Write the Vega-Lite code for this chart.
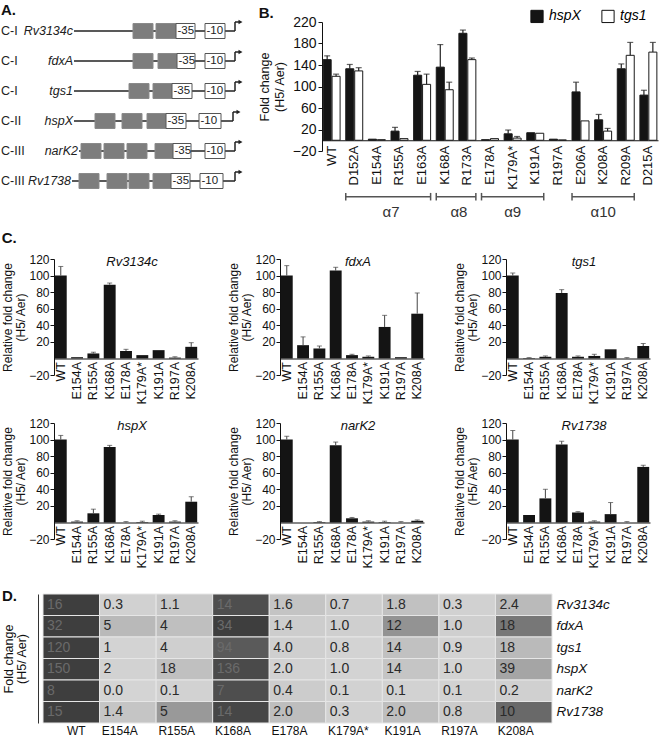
{
 "$schema": "https://vega.github.io/schema/vega-lite/v6.json",
 "padding": {"left": 1, "top": 2, "right": 2, "bottom": 0},
 "background": "white",
 "config": {
  "font": "Liberation Sans",
  "view": {"stroke": null},
  "axis": {"grid": false, "labelOverlap": false, "domainColor": "#111", "tickColor": "#111", "labelColor": "#111", "titleColor": "#111", "titleFontWeight": "normal", "labelFontWeight": "normal"},
  "title": {"color": "#111"}
 },
 "datasets": {
  "aRows": [
   {"gene": "Rv3134c", "cls": "C-I", "row": 1, "start": 74, "arrow": 235},
   {"gene": "fdxA", "cls": "C-I", "row": 2, "start": 74, "arrow": 235},
   {"gene": "tgs1", "cls": "C-I", "row": 3, "start": 74, "arrow": 235},
   {"gene": "hspX", "cls": "C-II", "row": 4, "start": 74, "arrow": 233},
   {"gene": "narK2", "cls": "C-III", "row": 5, "start": 79, "arrow": 235},
   {"gene": "Rv1738", "cls": "C-III", "row": 6, "start": 72, "arrow": 235}
  ],
  "aBoxes": [
   {"row": 1, "kind": "site", "s": 133, "e": 153}, {"row": 1, "kind": "site", "s": 156, "e": 176}, {"row": 1, "kind": "-35", "s": 176, "e": 195}, {"row": 1, "kind": "-10", "s": 205, "e": 225},
   {"row": 2, "kind": "site", "s": 133, "e": 153}, {"row": 2, "kind": "site", "s": 158, "e": 177}, {"row": 2, "kind": "-35", "s": 177, "e": 195}, {"row": 2, "kind": "-10", "s": 205, "e": 225},
   {"row": 3, "kind": "site", "s": 129, "e": 149}, {"row": 3, "kind": "site", "s": 153, "e": 172}, {"row": 3, "kind": "-35", "s": 172, "e": 192}, {"row": 3, "kind": "-10", "s": 205, "e": 225},
   {"row": 4, "kind": "site", "s": 95, "e": 115}, {"row": 4, "kind": "site", "s": 122, "e": 142}, {"row": 4, "kind": "site", "s": 147, "e": 166}, {"row": 4, "kind": "-35", "s": 166, "e": 186}, {"row": 4, "kind": "-10", "s": 199, "e": 221},
   {"row": 5, "kind": "site", "s": 81, "e": 101}, {"row": 5, "kind": "site", "s": 104, "e": 124}, {"row": 5, "kind": "site", "s": 127, "e": 147}, {"row": 5, "kind": "site", "s": 155, "e": 173}, {"row": 5, "kind": "-35", "s": 173, "e": 191}, {"row": 5, "kind": "-10", "s": 205, "e": 225},
   {"row": 6, "kind": "site", "s": 79, "e": 99}, {"row": 6, "kind": "site", "s": 107, "e": 127}, {"row": 6, "kind": "site", "s": 129, "e": 149}, {"row": 6, "kind": "site", "s": 153, "e": 171}, {"row": 6, "kind": "-35", "s": 171, "e": 190}, {"row": 6, "kind": "-10", "s": 200, "e": 223}
  ],
  "bData": [
   {"mut": "WT", "series": "hspX", "val": 150, "hi": 157}, {"mut": "WT", "series": "tgs1", "val": 119, "hi": 123},
   {"mut": "D152A", "series": "hspX", "val": 133, "hi": 141}, {"mut": "D152A", "series": "tgs1", "val": 129, "hi": 135},
   {"mut": "E154A", "series": "hspX", "val": 2, "hi": 2}, {"mut": "E154A", "series": "tgs1", "val": 1, "hi": 1},
   {"mut": "R155A", "series": "hspX", "val": 17, "hi": 24}, {"mut": "R155A", "series": "tgs1", "val": 3, "hi": 3},
   {"mut": "E163A", "series": "hspX", "val": 121, "hi": 128}, {"mut": "E163A", "series": "tgs1", "val": 104, "hi": 123},
   {"mut": "K168A", "series": "hspX", "val": 136, "hi": 178}, {"mut": "K168A", "series": "tgs1", "val": 94, "hi": 108},
   {"mut": "R173A", "series": "hspX", "val": 199, "hi": 205}, {"mut": "R173A", "series": "tgs1", "val": 150, "hi": 153},
   {"mut": "E178A", "series": "hspX", "val": 1, "hi": 1}, {"mut": "E178A", "series": "tgs1", "val": 3, "hi": 3},
   {"mut": "K179A*", "series": "hspX", "val": 12, "hi": 19}, {"mut": "K179A*", "series": "tgs1", "val": 4, "hi": 7},
   {"mut": "K191A", "series": "hspX", "val": 14, "hi": 14}, {"mut": "K191A", "series": "tgs1", "val": 13, "hi": 13},
   {"mut": "R197A", "series": "hspX", "val": 2, "hi": 2}, {"mut": "R197A", "series": "tgs1", "val": 0.5, "hi": 0.5},
   {"mut": "E206A", "series": "hspX", "val": 90, "hi": 108}, {"mut": "E206A", "series": "tgs1", "val": 36, "hi": 36},
   {"mut": "K208A", "series": "hspX", "val": 38, "hi": 48}, {"mut": "K208A", "series": "tgs1", "val": 17, "hi": 22},
   {"mut": "R209A", "series": "hspX", "val": 133, "hi": 142}, {"mut": "R209A", "series": "tgs1", "val": 158, "hi": 182},
   {"mut": "D215A", "series": "hspX", "val": 84, "hi": 93}, {"mut": "D215A", "series": "tgs1", "val": 164, "hi": 182}
  ],
  "bBrackets": [
   {"label": "α7", "from": "D152A", "to": "E163A", "mid": "R155A", "half": 0},
   {"label": "α8", "from": "K168A", "to": "R173A", "mid": "R173A", "half": 0},
   {"label": "α9", "from": "E178A", "to": "K191A", "mid": "K179A*", "half": 1},
   {"label": "α10", "from": "E206A", "to": "R209A", "mid": "K208A", "half": 1}
  ],
  "cData": [
   {"gene": "Rv3134c", "mut": "WT", "val": 100, "hi": 111}, {"gene": "Rv3134c", "mut": "E154A", "val": 1.5, "hi": 1.5}, {"gene": "Rv3134c", "mut": "R155A", "val": 6, "hi": 7.5}, {"gene": "Rv3134c", "mut": "K168A", "val": 89, "hi": 91}, {"gene": "Rv3134c", "mut": "E178A", "val": 9, "hi": 11}, {"gene": "Rv3134c", "mut": "K179A*", "val": 4, "hi": 4}, {"gene": "Rv3134c", "mut": "K191A", "val": 10, "hi": 10}, {"gene": "Rv3134c", "mut": "R197A", "val": 1, "hi": 2}, {"gene": "Rv3134c", "mut": "K208A", "val": 14, "hi": 19},
   {"gene": "fdxA", "mut": "WT", "val": 100, "hi": 112}, {"gene": "fdxA", "mut": "E154A", "val": 16, "hi": 26}, {"gene": "fdxA", "mut": "R155A", "val": 12, "hi": 15}, {"gene": "fdxA", "mut": "K168A", "val": 106, "hi": 110}, {"gene": "fdxA", "mut": "E178A", "val": 4, "hi": 5}, {"gene": "fdxA", "mut": "K179A*", "val": 2, "hi": 3}, {"gene": "fdxA", "mut": "K191A", "val": 38, "hi": 52}, {"gene": "fdxA", "mut": "R197A", "val": 1.5, "hi": 1.5}, {"gene": "fdxA", "mut": "K208A", "val": 54, "hi": 79},
   {"gene": "tgs1", "mut": "WT", "val": 100, "hi": 103}, {"gene": "tgs1", "mut": "E154A", "val": 0.5, "hi": 1}, {"gene": "tgs1", "mut": "R155A", "val": 2, "hi": 3}, {"gene": "tgs1", "mut": "K168A", "val": 79, "hi": 83}, {"gene": "tgs1", "mut": "E178A", "val": 2, "hi": 3}, {"gene": "tgs1", "mut": "K179A*", "val": 3, "hi": 5}, {"gene": "tgs1", "mut": "K191A", "val": 11, "hi": 11}, {"gene": "tgs1", "mut": "R197A", "val": 0, "hi": 1}, {"gene": "tgs1", "mut": "K208A", "val": 15, "hi": 18},
   {"gene": "hspX", "mut": "WT", "val": 100, "hi": 105}, {"gene": "hspX", "mut": "E154A", "val": 1, "hi": 2}, {"gene": "hspX", "mut": "R155A", "val": 11, "hi": 16}, {"gene": "hspX", "mut": "K168A", "val": 91, "hi": 93}, {"gene": "hspX", "mut": "E178A", "val": 0, "hi": 1}, {"gene": "hspX", "mut": "K179A*", "val": 0.5, "hi": 1.5}, {"gene": "hspX", "mut": "K191A", "val": 9, "hi": 10}, {"gene": "hspX", "mut": "R197A", "val": 1, "hi": 2}, {"gene": "hspX", "mut": "K208A", "val": 25, "hi": 31},
   {"gene": "narK2", "mut": "WT", "val": 100, "hi": 104}, {"gene": "narK2", "mut": "E154A", "val": 0, "hi": 0}, {"gene": "narK2", "mut": "R155A", "val": 0.5, "hi": 1}, {"gene": "narK2", "mut": "K168A", "val": 93, "hi": 97}, {"gene": "narK2", "mut": "E178A", "val": 5, "hi": 6}, {"gene": "narK2", "mut": "K179A*", "val": 1, "hi": 2}, {"gene": "narK2", "mut": "K191A", "val": 0.5, "hi": 1.5}, {"gene": "narK2", "mut": "R197A", "val": 0, "hi": 1}, {"gene": "narK2", "mut": "K208A", "val": 2, "hi": 3},
   {"gene": "Rv1738", "mut": "WT", "val": 100, "hi": 111}, {"gene": "Rv1738", "mut": "E154A", "val": 9, "hi": 9}, {"gene": "Rv1738", "mut": "R155A", "val": 29, "hi": 40}, {"gene": "Rv1738", "mut": "K168A", "val": 94, "hi": 98}, {"gene": "Rv1738", "mut": "E178A", "val": 12, "hi": 13}, {"gene": "Rv1738", "mut": "K179A*", "val": 1, "hi": 2}, {"gene": "Rv1738", "mut": "K191A", "val": 10, "hi": 24}, {"gene": "Rv1738", "mut": "R197A", "val": 0, "hi": 1}, {"gene": "Rv1738", "mut": "K208A", "val": 67, "hi": 69}
  ],
  "dData": [
   {"gene": "Rv3134c", "mut": "WT", "label": "16", "rel": 100}, {"gene": "Rv3134c", "mut": "E154A", "label": "0.3", "rel": 1.9}, {"gene": "Rv3134c", "mut": "R155A", "label": "1.1", "rel": 6.9}, {"gene": "Rv3134c", "mut": "K168A", "label": "14", "rel": 87.5}, {"gene": "Rv3134c", "mut": "E178A", "label": "1.6", "rel": 10}, {"gene": "Rv3134c", "mut": "K179A*", "label": "0.7", "rel": 4.4}, {"gene": "Rv3134c", "mut": "K191A", "label": "1.8", "rel": 11.3}, {"gene": "Rv3134c", "mut": "R197A", "label": "0.3", "rel": 1.9}, {"gene": "Rv3134c", "mut": "K208A", "label": "2.4", "rel": 15},
   {"gene": "fdxA", "mut": "WT", "label": "32", "rel": 100}, {"gene": "fdxA", "mut": "E154A", "label": "5", "rel": 15.6}, {"gene": "fdxA", "mut": "R155A", "label": "4", "rel": 12.5}, {"gene": "fdxA", "mut": "K168A", "label": "34", "rel": 106}, {"gene": "fdxA", "mut": "E178A", "label": "1.4", "rel": 4.4}, {"gene": "fdxA", "mut": "K179A*", "label": "1.0", "rel": 3.1}, {"gene": "fdxA", "mut": "K191A", "label": "12", "rel": 37.5}, {"gene": "fdxA", "mut": "R197A", "label": "1.0", "rel": 3.1}, {"gene": "fdxA", "mut": "K208A", "label": "18", "rel": 56.3},
   {"gene": "tgs1", "mut": "WT", "label": "120", "rel": 100}, {"gene": "tgs1", "mut": "E154A", "label": "1", "rel": 0.8}, {"gene": "tgs1", "mut": "R155A", "label": "4", "rel": 3.3}, {"gene": "tgs1", "mut": "K168A", "label": "94", "rel": 78.3}, {"gene": "tgs1", "mut": "E178A", "label": "4.0", "rel": 3.3}, {"gene": "tgs1", "mut": "K179A*", "label": "0.8", "rel": 0.7}, {"gene": "tgs1", "mut": "K191A", "label": "14", "rel": 11.7}, {"gene": "tgs1", "mut": "R197A", "label": "0.9", "rel": 0.8}, {"gene": "tgs1", "mut": "K208A", "label": "18", "rel": 15},
   {"gene": "hspX", "mut": "WT", "label": "150", "rel": 100}, {"gene": "hspX", "mut": "E154A", "label": "2", "rel": 1.3}, {"gene": "hspX", "mut": "R155A", "label": "18", "rel": 12}, {"gene": "hspX", "mut": "K168A", "label": "136", "rel": 90.7}, {"gene": "hspX", "mut": "E178A", "label": "2.0", "rel": 1.3}, {"gene": "hspX", "mut": "K179A*", "label": "1.0", "rel": 0.7}, {"gene": "hspX", "mut": "K191A", "label": "14", "rel": 9.3}, {"gene": "hspX", "mut": "R197A", "label": "1.0", "rel": 0.7}, {"gene": "hspX", "mut": "K208A", "label": "39", "rel": 26},
   {"gene": "narK2", "mut": "WT", "label": "8", "rel": 100}, {"gene": "narK2", "mut": "E154A", "label": "0.0", "rel": 0}, {"gene": "narK2", "mut": "R155A", "label": "0.1", "rel": 1.3}, {"gene": "narK2", "mut": "K168A", "label": "7", "rel": 87.5}, {"gene": "narK2", "mut": "E178A", "label": "0.4", "rel": 5}, {"gene": "narK2", "mut": "K179A*", "label": "0.1", "rel": 1.3}, {"gene": "narK2", "mut": "K191A", "label": "0.1", "rel": 1.3}, {"gene": "narK2", "mut": "R197A", "label": "0.1", "rel": 1.3}, {"gene": "narK2", "mut": "K208A", "label": "0.2", "rel": 2.5},
   {"gene": "Rv1738", "mut": "WT", "label": "15", "rel": 100}, {"gene": "Rv1738", "mut": "E154A", "label": "1.4", "rel": 9.3}, {"gene": "Rv1738", "mut": "R155A", "label": "5", "rel": 33.3}, {"gene": "Rv1738", "mut": "K168A", "label": "14", "rel": 93.3}, {"gene": "Rv1738", "mut": "E178A", "label": "2.0", "rel": 13.3}, {"gene": "Rv1738", "mut": "K179A*", "label": "0.3", "rel": 2}, {"gene": "Rv1738", "mut": "K191A", "label": "2.0", "rel": 13.3}, {"gene": "Rv1738", "mut": "R197A", "label": "0.8", "rel": 5.3}, {"gene": "Rv1738", "mut": "K208A", "label": "10", "rel": 66.7}
  ]
 },
 "spacing": 11,
 "resolve": {"scale": {"fill": "independent", "stroke": "independent", "color": "independent"}},
 "vconcat": [
  {
   "resolve": {"scale": {"fill": "independent", "stroke": "independent", "color": "independent"}},
   "hconcat": [
    {
     "width": 202, "height": 180,
     "title": {"text": "A.", "anchor": "start", "fontSize": 15, "fontWeight": "bold", "offset": 2},
     "layer": [
      {"data": {"name": "aRows"}, "mark": {"type": "rule", "color": "#222", "strokeWidth": 1.5},
       "encoding": {
        "x": {"field": "start", "type": "quantitative", "scale": {"domain": [43, 245], "nice": false, "zero": false}, "axis": null},
        "x2": {"field": "arrow"},
        "y": {"field": "row", "type": "quantitative", "scale": {"domain": [0.7, 6.7], "reverse": true, "nice": false, "zero": false}, "axis": null}}},
      {"data": {"name": "aBoxes"}, "mark": {"type": "rect", "yOffset": -7.5, "y2Offset": 7.5, "strokeWidth": 1},
       "encoding": {
        "x": {"field": "s", "type": "quantitative", "axis": null}, "x2": {"field": "e"},
        "y": {"field": "row", "type": "quantitative", "axis": null}, "y2": {"field": "row"},
        "fill": {"field": "kind", "type": "nominal", "scale": {"domain": ["site", "-35", "-10"], "range": ["#7d7d7d", "#ffffff", "#ffffff"]}, "legend": null},
        "stroke": {"field": "kind", "type": "nominal", "scale": {"domain": ["site", "-35", "-10"], "range": ["#8a8a8a", "#555555", "#555555"]}, "legend": null}}},
      {"data": {"name": "aBoxes"}, "transform": [{"filter": "datum.kind !== 'site'"}],
       "mark": {"type": "text", "align": "left", "baseline": "middle", "dx": 1.5, "fontSize": 11.5, "color": "#222"},
       "encoding": {"x": {"field": "s", "type": "quantitative", "axis": null}, "y": {"field": "row", "type": "quantitative", "axis": null}, "text": {"field": "kind"}}},
      {"data": {"name": "aRows"}, "mark": {"type": "rule", "color": "#222", "strokeWidth": 1.5, "y2Offset": -9},
       "encoding": {"x": {"field": "arrow", "type": "quantitative", "axis": null}, "y": {"field": "row", "type": "quantitative", "axis": null}, "y2": {"field": "row"}}},
      {"data": {"name": "aRows"}, "mark": {"type": "rule", "color": "#222", "strokeWidth": 1.5, "yOffset": -9, "x2Offset": 4},
       "encoding": {"x": {"field": "arrow", "type": "quantitative", "axis": null}, "x2": {"field": "arrow"}, "y": {"field": "row", "type": "quantitative", "axis": null}}},
      {"data": {"name": "aRows"}, "mark": {"type": "point", "shape": "triangle-right", "filled": true, "color": "#222", "opacity": 1, "size": 22, "xOffset": 5.5, "yOffset": -9},
       "encoding": {"x": {"field": "arrow", "type": "quantitative", "axis": null}, "y": {"field": "row", "type": "quantitative", "axis": null}}},
      {"data": {"name": "aRows"}, "mark": {"type": "text", "align": "left", "baseline": "middle", "fontSize": 12.5, "color": "#222"},
       "encoding": {"x": {"datum": 1, "type": "quantitative", "axis": null}, "y": {"field": "row", "type": "quantitative", "axis": null}, "text": {"field": "cls"}}},
      {"data": {"name": "aRows"}, "mark": {"type": "text", "align": "right", "baseline": "middle", "fontSize": 12.5, "fontStyle": "italic", "dx": -1, "color": "#222"},
       "encoding": {"x": {"field": "start", "type": "quantitative", "axis": null}, "y": {"field": "row", "type": "quantitative", "axis": null}, "text": {"field": "gene"}}}
     ]
    },
    {
     "width": 336, "height": 129,
     "title": {"text": "B.", "anchor": "start", "fontSize": 15, "fontWeight": "bold", "offset": -12},
     "layer": [
      {"data": {"name": "bData"}, "mark": {"type": "bar", "stroke": "#1a1a1a", "strokeWidth": 1},
       "encoding": {
        "x": {"field": "mut", "type": "nominal", "scale": {"domain": ["WT", "D152A", "E154A", "R155A", "E163A", "K168A", "R173A", "E178A", "K179A*", "K191A", "R197A", "E206A", "K208A", "R209A", "D215A"], "paddingInner": 0.25, "paddingOuter": 0.05},
              "axis": {"labelAngle": -90, "ticks": false, "domain": true, "domainWidth": 1.2, "offset": -10.75, "labelPadding": 5, "labelFontSize": 13, "labelOverlap": false, "title": null}},
        "xOffset": {"field": "series", "type": "nominal", "scale": {"domain": ["hspX", "tgs1"], "paddingInner": 0.1}},
        "y": {"field": "val", "type": "quantitative", "scale": {"domain": [-20, 220], "nice": false, "zero": false},
              "axis": {"values": [-20, 20, 60, 100, 140, 180, 220], "tickCount": 12, "labelOverlap": false, "labelBound": false, "tickSize": 4, "labelFontSize": 14, "labelPadding": 2, "title": ["Fold change", "(H5/ Aer)"], "titleFontSize": 12.5, "titlePadding": 6}},
        "y2": {"datum": 0},
        "fill": {"field": "series", "type": "nominal", "scale": {"domain": ["hspX", "tgs1"], "range": ["#141414", "#ffffff"]},
                 "legend": {"orient": "none", "legendX": 208, "legendY": -13, "direction": "horizontal", "title": null, "symbolType": "square", "symbolSize": 150, "symbolStrokeColor": "#111", "symbolStrokeWidth": 1, "labelFontSize": 14, "labelFontStyle": "italic", "columnPadding": 18, "labelOffset": 5, "padding": 0}}}},
      {"data": {"name": "bData"}, "transform": [{"filter": "datum.hi > datum.val"}], "mark": {"type": "rule", "color": "#222", "strokeWidth": 1.2},
       "encoding": {"x": {"field": "mut", "type": "nominal"}, "xOffset": {"field": "series", "type": "nominal"}, "y": {"field": "val", "type": "quantitative"}, "y2": {"field": "hi"}}},
      {"data": {"name": "bData"}, "transform": [{"filter": "datum.hi > datum.val"}], "mark": {"type": "tick", "color": "#222", "thickness": 1.2, "size": 6},
       "encoding": {"x": {"field": "mut", "type": "nominal"}, "xOffset": {"field": "series", "type": "nominal"}, "y": {"field": "hi", "type": "quantitative"}}},
      {"data": {"name": "bBrackets"}, "mark": {"type": "rule", "color": "#555", "strokeWidth": 1.5},
       "encoding": {"x": {"field": "from", "type": "nominal", "bandPosition": 0}, "x2": {"field": "to", "bandPosition": 1}, "y": {"datum": -105}}},
      {"data": {"name": "bBrackets"}, "mark": {"type": "rule", "color": "#555", "strokeWidth": 1.5},
       "encoding": {"x": {"field": "from", "type": "nominal", "bandPosition": 0}, "y": {"datum": -98}, "y2": {"datum": -112}}},
      {"data": {"name": "bBrackets"}, "mark": {"type": "rule", "color": "#555", "strokeWidth": 1.5},
       "encoding": {"x": {"field": "to", "type": "nominal", "bandPosition": 1}, "y": {"datum": -98}, "y2": {"datum": -112}}},
      {"data": {"name": "bBrackets"}, "transform": [{"filter": "datum.half === 0"}], "mark": {"type": "text", "fontSize": 15, "baseline": "middle", "color": "#333"},
       "encoding": {"x": {"field": "mid", "type": "nominal", "bandPosition": 0}, "y": {"datum": -133}, "text": {"field": "label"}}},
      {"data": {"name": "bBrackets"}, "transform": [{"filter": "datum.half === 1"}], "mark": {"type": "text", "fontSize": 15, "baseline": "middle", "color": "#333"},
       "encoding": {"x": {"field": "mid", "type": "nominal", "bandPosition": 0.5}, "y": {"datum": -133}, "text": {"field": "label"}}}
     ]
    }
   ],
   "spacing": 77,
   "bounds": "flush"
  },
  {
   "spacing": 20,
   "vconcat": [
    {
     "bounds": "flush",
     "spacing": 0,
     "hconcat": [
      {"width": 11, "height": 1, "data": {"values": [{}]}, "mark": {"type": "rule", "opacity": 0}, "encoding": {}},
      {
       "title": {"text": "C.", "anchor": "start", "fontSize": 15, "fontWeight": "bold", "offset": 7},
       "columns": 3,
       "spacing": {"row": 48, "column": 82},
       "bounds": "flush",
       "concat": [
        {"width": 144, "height": 116, "title": {"text": "Rv3134c", "fontStyle": "italic", "fontWeight": "normal", "fontSize": 13, "frame": "group", "offset": -16, "dx": 6},
         "data": {"name": "cData"}, "transform": [{"filter": "datum.gene === 'Rv3134c'"}],
         "layer": [
          {"mark": {"type": "bar", "color": "#141414"}, "encoding": {
            "x": {"field": "mut", "type": "nominal", "scale": {"domain": ["WT", "E154A", "R155A", "K168A", "E178A", "K179A*", "K191A", "R197A", "K208A"], "paddingInner": 0.27, "paddingOuter": 0.05}, "axis": {"labelAngle": -90, "ticks": false, "domain": true, "offset": -16.5, "labelPadding": 3, "labelFontSize": 12.5, "labelOverlap": false, "title": null}},
            "y": {"field": "val", "type": "quantitative", "scale": {"domain": [-20, 120], "nice": false, "zero": false}, "axis": {"values": [-20, 20, 40, 60, 80, 100, 120], "tickCount": 12, "labelOverlap": false, "labelBound": false, "tickSize": 4, "labelFontSize": 12, "labelPadding": 1, "title": ["Relative fold change", "(H5/ Aer)"], "titleFontSize": 12, "titleLineHeight": 13, "titlePadding": 1}},
            "y2": {"datum": 0}}},
          {"transform": [{"filter": "datum.hi > datum.val"}], "mark": {"type": "rule", "color": "#444", "strokeWidth": 1}, "encoding": {"x": {"field": "mut", "type": "nominal"}, "y": {"field": "val", "type": "quantitative"}, "y2": {"field": "hi"}}},
          {"transform": [{"filter": "datum.hi > datum.val"}], "mark": {"type": "tick", "color": "#444", "thickness": 1, "size": 5}, "encoding": {"x": {"field": "mut", "type": "nominal"}, "y": {"field": "hi", "type": "quantitative"}}}
         ]},
        {"width": 144, "height": 116, "title": {"text": "fdxA", "fontStyle": "italic", "fontWeight": "normal", "fontSize": 13, "frame": "group", "offset": -16, "dx": 6},
         "data": {"name": "cData"}, "transform": [{"filter": "datum.gene === 'fdxA'"}],
         "layer": [
          {"mark": {"type": "bar", "color": "#141414"}, "encoding": {
            "x": {"field": "mut", "type": "nominal", "scale": {"domain": ["WT", "E154A", "R155A", "K168A", "E178A", "K179A*", "K191A", "R197A", "K208A"], "paddingInner": 0.27, "paddingOuter": 0.05}, "axis": {"labelAngle": -90, "ticks": false, "domain": true, "offset": -16.5, "labelPadding": 3, "labelFontSize": 12.5, "labelOverlap": false, "title": null}},
            "y": {"field": "val", "type": "quantitative", "scale": {"domain": [-20, 120], "nice": false, "zero": false}, "axis": {"values": [-20, 20, 40, 60, 80, 100, 120], "tickCount": 12, "labelOverlap": false, "labelBound": false, "tickSize": 4, "labelFontSize": 12, "labelPadding": 1, "title": ["Relative fold change", "(H5/ Aer)"], "titleFontSize": 12, "titleLineHeight": 13, "titlePadding": 1}},
            "y2": {"datum": 0}}},
          {"transform": [{"filter": "datum.hi > datum.val"}], "mark": {"type": "rule", "color": "#444", "strokeWidth": 1}, "encoding": {"x": {"field": "mut", "type": "nominal"}, "y": {"field": "val", "type": "quantitative"}, "y2": {"field": "hi"}}},
          {"transform": [{"filter": "datum.hi > datum.val"}], "mark": {"type": "tick", "color": "#444", "thickness": 1, "size": 5}, "encoding": {"x": {"field": "mut", "type": "nominal"}, "y": {"field": "hi", "type": "quantitative"}}}
         ]},
        {"width": 144, "height": 116, "title": {"text": "tgs1", "fontStyle": "italic", "fontWeight": "normal", "fontSize": 13, "frame": "group", "offset": -16, "dx": 6},
         "data": {"name": "cData"}, "transform": [{"filter": "datum.gene === 'tgs1'"}],
         "layer": [
          {"mark": {"type": "bar", "color": "#141414"}, "encoding": {
            "x": {"field": "mut", "type": "nominal", "scale": {"domain": ["WT", "E154A", "R155A", "K168A", "E178A", "K179A*", "K191A", "R197A", "K208A"], "paddingInner": 0.27, "paddingOuter": 0.05}, "axis": {"labelAngle": -90, "ticks": false, "domain": true, "offset": -16.5, "labelPadding": 3, "labelFontSize": 12.5, "labelOverlap": false, "title": null}},
            "y": {"field": "val", "type": "quantitative", "scale": {"domain": [-20, 120], "nice": false, "zero": false}, "axis": {"values": [-20, 20, 40, 60, 80, 100, 120], "tickCount": 12, "labelOverlap": false, "labelBound": false, "tickSize": 4, "labelFontSize": 12, "labelPadding": 1, "title": ["Relative fold change", "(H5/ Aer)"], "titleFontSize": 12, "titleLineHeight": 13, "titlePadding": 1}},
            "y2": {"datum": 0}}},
          {"transform": [{"filter": "datum.hi > datum.val"}], "mark": {"type": "rule", "color": "#444", "strokeWidth": 1}, "encoding": {"x": {"field": "mut", "type": "nominal"}, "y": {"field": "val", "type": "quantitative"}, "y2": {"field": "hi"}}},
          {"transform": [{"filter": "datum.hi > datum.val"}], "mark": {"type": "tick", "color": "#444", "thickness": 1, "size": 5}, "encoding": {"x": {"field": "mut", "type": "nominal"}, "y": {"field": "hi", "type": "quantitative"}}}
         ]},
        {"width": 144, "height": 116, "title": {"text": "hspX", "fontStyle": "italic", "fontWeight": "normal", "fontSize": 13, "frame": "group", "offset": -16, "dx": 6},
         "data": {"name": "cData"}, "transform": [{"filter": "datum.gene === 'hspX'"}],
         "layer": [
          {"mark": {"type": "bar", "color": "#141414"}, "encoding": {
            "x": {"field": "mut", "type": "nominal", "scale": {"domain": ["WT", "E154A", "R155A", "K168A", "E178A", "K179A*", "K191A", "R197A", "K208A"], "paddingInner": 0.27, "paddingOuter": 0.05}, "axis": {"labelAngle": -90, "ticks": false, "domain": true, "offset": -16.5, "labelPadding": 3, "labelFontSize": 12.5, "labelOverlap": false, "title": null}},
            "y": {"field": "val", "type": "quantitative", "scale": {"domain": [-20, 120], "nice": false, "zero": false}, "axis": {"values": [-20, 20, 40, 60, 80, 100, 120], "tickCount": 12, "labelOverlap": false, "labelBound": false, "tickSize": 4, "labelFontSize": 12, "labelPadding": 1, "title": ["Relative fold change", "(H5/ Aer)"], "titleFontSize": 12, "titleLineHeight": 13, "titlePadding": 1}},
            "y2": {"datum": 0}}},
          {"transform": [{"filter": "datum.hi > datum.val"}], "mark": {"type": "rule", "color": "#444", "strokeWidth": 1}, "encoding": {"x": {"field": "mut", "type": "nominal"}, "y": {"field": "val", "type": "quantitative"}, "y2": {"field": "hi"}}},
          {"transform": [{"filter": "datum.hi > datum.val"}], "mark": {"type": "tick", "color": "#444", "thickness": 1, "size": 5}, "encoding": {"x": {"field": "mut", "type": "nominal"}, "y": {"field": "hi", "type": "quantitative"}}}
         ]},
        {"width": 144, "height": 116, "title": {"text": "narK2", "fontStyle": "italic", "fontWeight": "normal", "fontSize": 13, "frame": "group", "offset": -16, "dx": 6},
         "data": {"name": "cData"}, "transform": [{"filter": "datum.gene === 'narK2'"}],
         "layer": [
          {"mark": {"type": "bar", "color": "#141414"}, "encoding": {
            "x": {"field": "mut", "type": "nominal", "scale": {"domain": ["WT", "E154A", "R155A", "K168A", "E178A", "K179A*", "K191A", "R197A", "K208A"], "paddingInner": 0.27, "paddingOuter": 0.05}, "axis": {"labelAngle": -90, "ticks": false, "domain": true, "offset": -16.5, "labelPadding": 3, "labelFontSize": 12.5, "labelOverlap": false, "title": null}},
            "y": {"field": "val", "type": "quantitative", "scale": {"domain": [-20, 120], "nice": false, "zero": false}, "axis": {"values": [-20, 20, 40, 60, 80, 100, 120], "tickCount": 12, "labelOverlap": false, "labelBound": false, "tickSize": 4, "labelFontSize": 12, "labelPadding": 1, "title": ["Relative fold change", "(H5/ Aer)"], "titleFontSize": 12, "titleLineHeight": 13, "titlePadding": 1}},
            "y2": {"datum": 0}}},
          {"transform": [{"filter": "datum.hi > datum.val"}], "mark": {"type": "rule", "color": "#444", "strokeWidth": 1}, "encoding": {"x": {"field": "mut", "type": "nominal"}, "y": {"field": "val", "type": "quantitative"}, "y2": {"field": "hi"}}},
          {"transform": [{"filter": "datum.hi > datum.val"}], "mark": {"type": "tick", "color": "#444", "thickness": 1, "size": 5}, "encoding": {"x": {"field": "mut", "type": "nominal"}, "y": {"field": "hi", "type": "quantitative"}}}
         ]},
        {"width": 144, "height": 116, "title": {"text": "Rv1738", "fontStyle": "italic", "fontWeight": "normal", "fontSize": 13, "frame": "group", "offset": -16, "dx": 6},
         "data": {"name": "cData"}, "transform": [{"filter": "datum.gene === 'Rv1738'"}],
         "layer": [
          {"mark": {"type": "bar", "color": "#141414"}, "encoding": {
            "x": {"field": "mut", "type": "nominal", "scale": {"domain": ["WT", "E154A", "R155A", "K168A", "E178A", "K179A*", "K191A", "R197A", "K208A"], "paddingInner": 0.27, "paddingOuter": 0.05}, "axis": {"labelAngle": -90, "ticks": false, "domain": true, "offset": -16.5, "labelPadding": 3, "labelFontSize": 12.5, "labelOverlap": false, "title": null}},
            "y": {"field": "val", "type": "quantitative", "scale": {"domain": [-20, 120], "nice": false, "zero": false}, "axis": {"values": [-20, 20, 40, 60, 80, 100, 120], "tickCount": 12, "labelOverlap": false, "labelBound": false, "tickSize": 4, "labelFontSize": 12, "labelPadding": 1, "title": ["Relative fold change", "(H5/ Aer)"], "titleFontSize": 12, "titleLineHeight": 13, "titlePadding": 1}},
            "y2": {"datum": 0}}},
          {"transform": [{"filter": "datum.hi > datum.val"}], "mark": {"type": "rule", "color": "#444", "strokeWidth": 1}, "encoding": {"x": {"field": "mut", "type": "nominal"}, "y": {"field": "val", "type": "quantitative"}, "y2": {"field": "hi"}}},
          {"transform": [{"filter": "datum.hi > datum.val"}], "mark": {"type": "tick", "color": "#444", "thickness": 1, "size": 5}, "encoding": {"x": {"field": "mut", "type": "nominal"}, "y": {"field": "hi", "type": "quantitative"}}}
         ]}
       ]
      }
     ]
    },
    {
     "width": 509, "height": 129,
     "title": {"text": "D.", "anchor": "start", "fontSize": 15, "fontWeight": "bold", "offset": -10},
     "data": {"name": "dData"},
     "layer": [
      {"mark": {"type": "rect", "stroke": "#e6e6e6", "strokeWidth": 1},
       "encoding": {
        "x": {"field": "mut", "type": "nominal", "scale": {"domain": ["WT", "E154A", "R155A", "K168A", "E178A", "K179A*", "K191A", "R197A", "K208A"], "paddingInner": 0, "paddingOuter": 0},
              "axis": {"orient": "bottom", "labelAngle": 0, "ticks": false, "domain": false, "labelFontSize": 12, "labelPadding": 2, "title": null,
                       "labelAlign": {"condition": {"test": "datum.value === 'WT'", "value": "center"}, "value": "left"},
                       "labelOffset": {"condition": {"test": "datum.value === 'WT'", "value": 5}, "value": -26}}},
        "y": {"field": "gene", "type": "nominal", "scale": {"domain": ["Rv3134c", "fdxA", "tgs1", "hspX", "narK2", "Rv1738"], "paddingInner": 0, "paddingOuter": 0},
              "axis": {"orient": "left", "labels": false, "ticks": false, "domain": true, "domainColor": "#333", "offset": 5, "title": ["Fold change", "(H5/ Aer)"], "titleFontSize": 12.5, "titleLineHeight": 13, "titlePadding": 10}},
        "fill": {"field": "rel", "type": "quantitative", "scale": {"domain": [0, 10, 30, 60, 100], "range": ["#d4d4d4", "#c4c4c4", "#9e9e9e", "#727272", "#3e3e3e"], "clamp": true}, "legend": null}}},
      {"mark": {"type": "text", "align": "left", "baseline": "middle", "dx": 4, "fontSize": 14},
       "encoding": {
        "x": {"field": "mut", "type": "nominal", "bandPosition": 0},
        "y": {"field": "gene", "type": "nominal", "axis": {"orient": "right", "labelFontStyle": "italic", "labelFontSize": 13.5, "ticks": false, "domain": false, "labelPadding": 4, "title": null}},
        "text": {"field": "label"},
        "color": {"condition": {"test": "datum.rel > 75", "value": "#6a6a6a"}, "value": "#2a2a2a"}}}
     ],
     "resolve": {"axis": {"y": "independent"}}
    }
   ]
  }
 ]
}
